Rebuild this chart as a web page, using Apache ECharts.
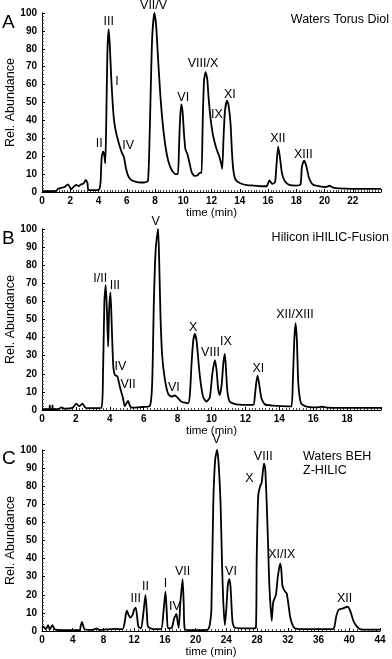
<!DOCTYPE html>
<html>
<head>
<meta charset="utf-8">
<script src="https://cdn.jsdelivr.net/npm/echarts@6/dist/echarts.min.js"></script>
<style>
  html, body { margin: 0; padding: 0; background: #fff; }
  #chart { width: 392px; height: 659px; }
</style>
</head>
<body>
<div id="chart"></div>
<script>
// chromatogram traces: [time (min), rel. abundance]
var traceA = [
  [0,0.5],[0.5,0.5],[1.0,0.6],[1.13,1.8],[1.35,2.3],[1.6,2.8],[1.84,4.3],[2.07,1.5],[2.25,3.0],[2.43,3.9],
  [2.6,3.3],[2.75,4.2],[2.95,4.8],[3.1,6.7],[3.22,5.0],[3.28,1.0],[3.6,1.0],[4.05,1.5],[4.15,6],[4.22,19],
  [4.32,22.5],[4.4,21],[4.48,16],[4.55,40],[4.63,78],[4.72,91],[4.8,82],[4.9,64],[5.0,50],[5.1,40],
  [5.25,33],[5.45,27],[5.65,22],[5.8,19.5],[5.95,13],[6.1,9],[6.3,6.8],[6.6,5.8],[7.0,5.3],[7.3,5.4],
  [7.5,6],[7.6,25],[7.7,58],[7.8,86],[7.95,100],[8.08,93],[8.22,74],[8.38,54],[8.55,38],[8.75,25],
  [8.95,17],[9.2,12],[9.45,10],[9.62,10],[9.7,25],[9.77,40],[9.86,49],[9.95,45],[10.05,33],[10.15,24],
  [10.3,21],[10.45,16],[10.6,11],[10.8,9],[11.0,9.2],[11.1,10.2],[11.25,11],[11.3,10.5],[11.38,40],[11.47,62],
  [11.58,67],[11.7,63],[11.8,52],[11.95,40],[12.1,32],[12.25,27],[12.4,23],[12.55,20],[12.68,16],[12.76,13],
  [12.85,30],[12.95,45],[13.1,51],[13.2,49],[13.35,38],[13.45,22],[13.55,12],[13.7,7],[14.0,5],[14.5,3.8],
  [15.0,3.6],[15.5,3.2],[15.9,3.2],[16.1,6.5],[16.3,4.5],[16.5,5.5],[16.6,15],[16.72,25.5],[16.85,19],[17.0,10],
  [17.2,6],[17.5,4],[18.0,3.6],[18.3,4.2],[18.4,14],[18.55,17.5],[18.7,15],[18.9,8],[19.2,4],[19.8,3],
  [20.1,2.8],[20.35,3.5],[20.6,2.5],[21.0,2],[22.0,1.8],[24.0,1.8]
];
var traceB = [
  [0,0.5],[0.44,0.5],[0.46,2.5],[0.48,0.5],[0.6,0.5],[0.62,2.5],[0.64,0.5],[1.0,0.6],[1.14,1.5],[1.3,0.8],
  [1.8,1.2],[2.03,3.5],[2.2,2.0],[2.38,3.5],[2.6,1.0],[3.0,1.0],[3.5,1.2],[3.6,20],[3.68,60],[3.76,69],
  [3.83,55],[3.9,35],[3.96,55],[4.04,65],[4.12,45],[4.2,25],[4.29,19.5],[4.45,18.5],[4.59,13],[4.78,6.5],
  [4.88,2],[5.0,4],[5.08,5],[5.18,2.5],[5.28,1.3],[5.8,1.6],[6.36,2.2],[6.5,15],[6.6,60],[6.71,89],
  [6.85,100],[6.92,80],[6.99,52],[7.09,30],[7.24,17.5],[7.44,9],[7.64,7.4],[7.8,8],[7.93,7.5],[8.23,4.6],
  [8.62,3.7],[8.72,8],[8.82,25],[8.92,38],[9.02,42],[9.12,38],[9.31,19],[9.5,7.4],[9.7,4.6],[9.9,7],
  [10.05,20],[10.2,27.6],[10.3,22],[10.39,12],[10.49,8.3],[10.6,14],[10.7,26],[10.79,31],[10.87,20],[10.94,10],
  [11.08,4.6],[11.48,3.1],[12.46,2.8],[12.56,8],[12.64,15],[12.72,19],[12.8,15],[12.95,6.4],[13.15,3.1],[13.64,2.4],
  [14.5,2.0],[14.72,2],[14.8,16],[14.88,38],[14.96,48],[15.04,38],[15.12,15],[15.28,3.7],[15.6,1.8],[16.2,1.4],
  [16.5,1.8],[16.8,1.3],[18.0,1.2],[20.0,1.2]
];
var traceC = [
  [0,1.5],[0.2,2.4],[0.5,1.0],[0.8,3.3],[1.0,0.8],[1.35,3.3],[1.65,1.0],[2.5,0.5],[4.9,0.5],[5.05,3],
  [5.2,5],[5.35,3],[5.55,1.0],[6.5,0.6],[7.2,1.5],[7.4,0.6],[9.5,1.2],[10.5,1.0],[10.77,5],[10.95,10],
  [11.08,11.2],[11.25,9],[11.5,7.4],[11.8,9],[12.0,12],[12.2,12.9],[12.38,8],[12.55,2.4],[12.9,1.5],[13.2,10],
  [13.47,20],[13.65,10],[13.8,2.4],[14.5,1.0],[15.5,1.0],[15.8,10],[16.07,21.7],[16.25,10],[16.4,1.5],[16.9,1.8],
  [17.2,7],[17.5,9.4],[17.65,5],[17.8,1.8],[18.0,15],[18.3,28.7],[18.45,15],[18.6,0.9],[19.5,0.5],[21.5,0.6],
  [21.76,2],[21.9,5],[22.05,12],[22.3,71],[22.55,95],[22.8,100],[23.0,92],[23.24,71],[23.45,35],[23.6,16],
  [23.8,3.3],[24.0,12.5],[24.2,26],[24.37,28.7],[24.55,24],[24.8,5],[25.1,1.8],[26.5,1.5],[27.5,1.5],[27.85,2],
  [27.95,40],[28.15,75],[28.4,80],[28.6,82],[28.75,88],[28.9,92.6],[29.05,90],[29.25,71],[29.45,45],[29.6,25],
  [29.9,5.7],[30.1,16],[30.45,20],[30.7,30],[31.0,37.4],[31.15,34],[31.3,25],[31.6,22],[31.85,20.8],[32.1,14],
  [32.3,7.9],[32.6,3.5],[32.9,1.5],[34.0,1.0],[37.9,1.0],[38.1,3],[38.3,8],[38.6,11.6],[39.2,12.5],[39.8,13.4],
  [40.05,12],[40.3,8.8],[40.6,5],[41.0,2.4],[41.4,1.1],[42.5,0.8],[44.0,0.8]
];

// peak annotations: [time, abundance, name]
var peaksA = [
  [4.05,27,'II'],[4.72,95.5,'III'],[5.3,61.5,'I'],[6.1,26,'IV'],[7.9,104,'VII/V'],[10.0,53,'VI'],
  [11.4,71.5,'VIII/X'],[12.38,43,'IX'],[13.3,54.5,'XI'],[16.7,30,'XII'],[18.5,21,'XIII']
];
var peaksB = [
  [3.44,72.5,'I/II'],[4.3,69,'III'],[4.63,24,'IV'],[5.08,14,'VII'],[6.71,104,'V'],[7.78,12.5,'VI'],
  [8.92,45.5,'X'],[9.94,31.5,'VIII'],[10.85,38,'IX'],[12.76,23,'XI'],[14.92,53,'XII/XIII']
];
var peaksC = [
  [12.2,17.7,'III'],[13.47,24.5,'II'],[16.07,26,'I'],[17.3,13.4,'IV'],[18.3,33,'VII'],[22.7,105.5,'V'],
  [24.6,33,'VI'],[27.0,84,'X'],[28.8,96.3,'VIII'],[31.2,42,'XI/IX'],[39.4,17.7,'XII']
];

var panelLetters = ['A', 'B', 'C'];
var columnNames = ['Waters Torus Diol', 'Hilicon iHILIC-Fusion', 'Waters BEH\nZ-HILIC'];
var xMax = [24, 20, 44];
var xStep = [2, 2, 4];
var xMinorSplit = [10, 10, 8];

var FONT = '"Liberation Sans", Arial, Helvetica, sans-serif';
var grids = [
  {left: 42, top: 13, width: 339, height: 179, outerBoundsMode: 'none', containLabel: false},
  {left: 42, top: 229, width: 339, height: 181, outerBoundsMode: 'none', containLabel: false},
  {left: 42, top: 450, width: 338, height: 181, outerBoundsMode: 'none', containLabel: false}
];

var myChart = echarts.init(document.getElementById('chart'));

var xAxes = [], yAxes = [], series = [];
var traces = [traceA, traceB, traceC];
var peaks = [peaksA, peaksB, peaksC];

for (var i = 0; i < 3; i++) {
  xAxes.push({
    type: 'value', gridIndex: i, min: 0, max: xMax[i], interval: xStep[i],
    name: 'time (min)', nameLocation: 'middle', nameGap: 15, nameMoveOverlap: false,
    nameTextStyle: {fontFamily: FONT, fontSize: 11.5, color: '#000'},
    axisLine: {lineStyle: {color: '#000', width: 1}},
    axisTick: {inside: true, length: 3, lineStyle: {color: '#000'}},
    minorTick: {show: true, splitNumber: xMinorSplit[i], length: 2, lineStyle: {color: '#444'}},
    axisLabel: {fontFamily: FONT, fontSize: 10, fontWeight: 'bold', color: '#000', margin: 4,
                showMaxLabel: i === 2},
    splitLine: {show: false}
  });
  yAxes.push({
    type: 'value', gridIndex: i, min: 0, max: 100, interval: 10,
    name: 'Rel. Abundance', nameLocation: 'middle', nameGap: 25, nameMoveOverlap: false,
    nameTextStyle: {fontFamily: FONT, fontSize: 12.5, color: '#000'},
    axisLine: {show: true, lineStyle: {color: '#000', width: 1}},
    axisTick: {inside: true, length: 3, lineStyle: {color: '#000'}},
    minorTick: {show: true, splitNumber: 5, length: 2, lineStyle: {color: '#444'}},
    axisLabel: {fontFamily: FONT, fontSize: 10, fontWeight: 'bold', color: '#000', margin: 5},
    splitLine: {show: false}
  });
  series.push({
    type: 'line', xAxisIndex: i, yAxisIndex: i, data: traces[i],
    showSymbol: false, smooth: 0.2, clip: false,
    lineStyle: {color: '#000', width: 1.8}
  });
  series.push({
    type: 'scatter', xAxisIndex: i, yAxisIndex: i, symbolSize: 0,
    data: peaks[i],
    itemStyle: {opacity: 1},
    label: {
      show: true, position: 'inside', color: '#000', fontFamily: FONT, fontSize: 12.5,
      formatter: function (p) { return p.value[2]; }
    },
    clip: false, silent: true
  });
}

var titles = [];
var letterTops = [13, 229, 449];
var nameTops = [13, 231, 450];
for (var j = 0; j < 3; j++) {
  titles.push({
    text: panelLetters[j], left: 2, top: letterTops[j], padding: 0,
    textStyle: {fontFamily: FONT, fontSize: 19, fontWeight: 'normal', color: '#000'}
  });
  var nt = {
    text: columnNames[j], top: nameTops[j], padding: 0,
    textStyle: {fontFamily: FONT, fontSize: 12.5, fontWeight: 'normal', color: '#000', lineHeight: 14}
  };
  if (j === 2) { nt.left = 303; } else { nt.right = 3; }
  titles.push(nt);
}

myChart.setOption({
  animation: false,
  backgroundColor: '#fff',
  title: titles,
  grid: grids,
  xAxis: xAxes,
  yAxis: yAxes,
  series: series
});
</script>
</body>
</html>
